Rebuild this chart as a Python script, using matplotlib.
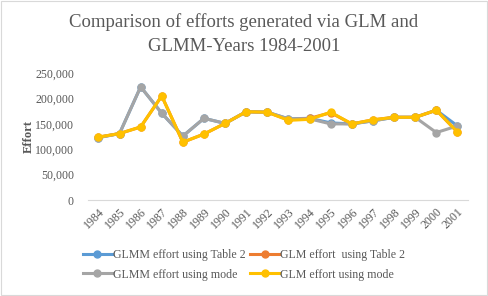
import matplotlib
matplotlib.use("Agg")
import matplotlib.pyplot as plt
from matplotlib.patches import Rectangle

years = [str(y) for y in range(1984, 2002)]
glmm_table2 = [123000, 131000, 223000, 171000, 126000, 161000, 151000, 174000, 173000,
               160000, 161000, 152000, 150000, 156000, 163000, 163000, 177000, 146000]
glm_table2 = [124000, 131000, 144000, 205000, 114000, 130000, 151000, 174000, 173000,
              158000, 161000, 172000, 150000, 158000, 163000, 163000, 177000, 134000]
glmm_mode = [123000, 131000, 223000, 171000, 126000, 161000, 151000, 174000, 173000,
             160000, 160000, 150000, 150000, 156000, 163000, 163000, 133000, 146000]
glm_mode = [124000, 131000, 144000, 205000, 114000, 130000, 151000, 174000, 173000,
            157000, 159000, 173000, 150000, 158000, 163000, 163000, 177000, 134000]
yticks = [0, 50000, 100000, 150000, 200000, 250000]

serif = ["Liberation Serif", "DejaVu Serif"]
tc = "#595959"

fig = plt.figure(figsize=(4.88, 2.96), dpi=100)
ax = fig.add_axes([0.18, 0.324, 0.779, 0.429])
x = list(range(len(years)))
series = [
    (glmm_table2, "#5B9BD5", "GLMM effort using Table 2"),
    (glm_table2, "#ED7D31", "GLM effort  using Table 2"),
    (glmm_mode, "#A5A5A5", "GLMM effort using mode"),
    (glm_mode, "#FFC000", "GLM effort using mode"),
]
lines = []
for vals, c, lab in series:
    ln, = ax.plot(x, vals, color=c, lw=2.2, marker="o", ms=5, label=lab)
    lines.append(ln)

ax.set_xlim(-0.5, len(years) - 0.5)
ax.set_ylim(0, 250000)
ax.set_yticks(yticks)
ax.set_yticklabels([f"{v:,}" for v in yticks], fontfamily=serif, fontsize=8.6, color=tc)
ax.set_xticks(x)
ax.set_xticklabels(years, rotation=45, ha="right", rotation_mode="anchor",
                   fontfamily=serif, fontsize=8.6, color=tc)
ax.tick_params(axis="both", length=0, pad=4)
ax.tick_params(axis="y", pad=10)
for s in ["top", "right", "left"]:
    ax.spines[s].set_visible(False)
ax.spines["bottom"].set_color("#D9D9D9")
ax.set_ylabel("Effort", fontfamily=serif, fontsize=9, fontweight="bold", color=tc, labelpad=0)

fig.text(0.5, 0.955, "Comparison of efforts generated via GLM and\nGLMM-Years 1984-2001",
         ha="center", va="top", fontfamily=serif, fontsize=13.5, color="#595959",
         linespacing=1.5)

order = [0, 2, 1, 3]
leg = fig.legend([lines[i] for i in order], [series[i][2] for i in order],
                 loc="center", bbox_to_anchor=(0.5, 0.105), ncol=2, frameon=False,
                 prop={"family": serif, "size": 8.6}, handlelength=2.4, columnspacing=0.4,
                 handletextpad=0.1, labelspacing=0.6)
for t in leg.get_texts():
    t.set_color(tc)

fig.patches.append(Rectangle((0.002, 0.003), 0.995, 0.993, transform=fig.transFigure,
                             fill=False, ec="#D9D9D9", lw=0.8))
fig.savefig("out.png", dpi=100)
